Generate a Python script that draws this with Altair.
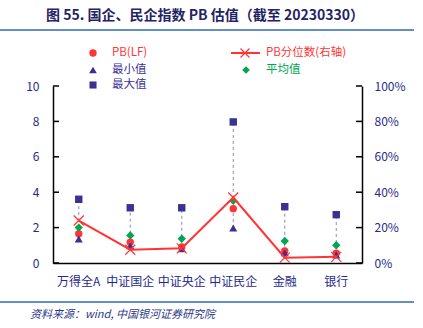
import altair as alt
import pandas as pd

cats = ["万得全A", "中证国企", "中证央企", "中证民企", "金融", "银行"]
pb = [1.65, 1.17, 0.90, 3.07, 0.68, 0.55]
min_v = [1.35, 0.98, 0.80, 1.98, 0.58, 0.45]
max_v = [3.60, 3.12, 3.12, 7.97, 3.18, 2.73]
mean_v = [2.00, 1.56, 1.37, 3.52, 1.24, 1.00]
pct = [0.24, 0.075, 0.083, 0.37, 0.03, 0.035]
left_ticks = [0, 2, 4, 6, 8, 10]
right_ticks = [0, 0.2, 0.4, 0.6, 0.8, 1.0]

RED = "#FF3535"
PURPLE = "#3B3195"
GREEN = "#00A650"
NAVY = "#1F2A8A"
FONT = "Noto Sans CJK SC"

df = pd.DataFrame({"cat": cats, "pb": pb, "min": min_v, "max": max_v,
                   "mean": mean_v, "pct": pct})
lt = pd.DataFrame({"v": left_ticks})
rt = pd.DataFrame({"v": right_ticks})

W, H = 309, 177

xenc = alt.X("cat:N", sort=cats, title=None,
             scale=alt.Scale(paddingInner=0, paddingOuter=0),
             axis=alt.Axis(labelAngle=0, labelColor=NAVY, labelFont=FONT,
                           labelFontSize=12, labelPadding=13, ticks=False,
                           domainColor="black", domainWidth=1.5))

lscale = alt.Scale(domain=[0, 10], nice=False)
rscale = alt.Scale(domain=[0, 1], nice=False)
laxis = alt.Axis(values=left_ticks, labelColor=NAVY, labelFont=FONT,
                 labelFontSize=12, labelPadding=14, ticks=False, grid=False,
                 domainColor="black", domainWidth=1.5, title=None)
raxis = alt.Axis(values=right_ticks, format=".0%", orient="right",
                 labelColor=NAVY, labelFont=FONT, labelFontSize=12,
                 labelPadding=12, ticks=False, grid=False,
                 domainColor="black", domainWidth=1.5, title=None)

base = alt.Chart(df)

rule = base.mark_rule(color="#8C88C4", strokeDash=[3, 3], strokeWidth=1).encode(
    x=xenc, y=alt.Y("min:Q", scale=lscale, axis=laxis), y2="max:Q")
sq = base.mark_point(shape="square", filled=True, size=55, color=PURPLE, opacity=1).encode(
    x=xenc, y=alt.Y("max:Q", scale=lscale, axis=laxis))
dia = base.mark_point(shape="diamond", filled=True, size=70, color=GREEN, opacity=1).encode(
    x=xenc, y=alt.Y("mean:Q", scale=lscale, axis=laxis))
cir = base.mark_point(shape="circle", filled=True, size=55, color=RED, opacity=1).encode(
    x=xenc, y=alt.Y("pb:Q", scale=lscale, axis=laxis))
tri = base.mark_point(shape="triangle-up", filled=True, size=65, color=PURPLE, opacity=1).encode(
    x=xenc, y=alt.Y("min:Q", scale=lscale, axis=laxis))
ltick = alt.Chart(lt).mark_rule(color="black", strokeWidth=1.5).encode(
    x=alt.value(0), x2=alt.value(6), y=alt.Y("v:Q", scale=lscale, axis=laxis))

left = alt.layer(rule, sq, cir, tri, dia, ltick)

XPATH = "M-1,-1L1,1M-1,1L1,-1"
line = base.mark_line(color=RED, strokeWidth=2).encode(
    x=xenc, y=alt.Y("pct:Q", scale=rscale, axis=raxis))
xm = base.mark_point(shape=XPATH, filled=False, size=100, color=RED,
                     strokeWidth=1.2, opacity=1).encode(
    x=xenc, y=alt.Y("pct:Q", scale=rscale, axis=raxis))
rtick = alt.Chart(rt).mark_rule(color="black", strokeWidth=1.5).encode(
    x=alt.value(W - 6), x2=alt.value(W), y=alt.Y("v:Q", scale=rscale, axis=raxis))

right = alt.layer(line, xm, rtick)

one = pd.DataFrame({"a": [0]})
def txt(s, x, y, color, size=11.5, align="left", **kw):
    return alt.Chart(one).mark_text(text=s, align=align, baseline="middle",
                                    font=FONT, fontSize=size, color=color, **kw).encode(
        x=alt.value(x), y=alt.value(y))

def pt(shape, x, y, color, size, **kw):
    return alt.Chart(one).mark_point(shape=shape, size=size, color=color, opacity=1, **kw).encode(
        x=alt.value(x), y=alt.value(y))

deco = [
    txt("图 55.  国企、民企指数 PB 估值（截至 20230330）", 152, -70, "#1F2466", 14,
        align="center", fontWeight="bold"),
    alt.Chart(one).mark_rule(color="#2E6BAE", strokeWidth=1.5).encode(
        x=alt.value(-53), x2=alt.value(361), y=alt.value(-56)),
    alt.Chart(one).mark_rule(color="#2E6BAE", strokeWidth=1.5).encode(
        x=alt.value(-53), x2=alt.value(361), y=alt.value(216)),
    txt("资料来源：wind, 中国银河证券研究院", -23, 229, "#2B3A8C", 11, fontStyle="italic"),
    pt("circle", 40, -33, RED, 55, filled=True),
    txt("PB(LF)", 59, -33, RED),
    pt("triangle-up", 40, -16, PURPLE, 60, filled=True),
    txt("最小值", 59, -16, PURPLE),
    pt("square", 40, -1, PURPLE, 50, filled=True),
    txt("最大值", 59, -1, PURPLE),
    alt.Chart(one).mark_rule(color=RED, strokeWidth=2).encode(
        x=alt.value(178), x2=alt.value(207), y=alt.value(-33)),
    pt(XPATH, 192, -33, RED, 80, filled=False, strokeWidth=1.2),
    txt("PB分位数(右轴)", 213, -33, RED),
    pt("diamond", 193, -16, GREEN, 60, filled=True),
    txt("平均值", 213, -16, GREEN),
]

chart = alt.layer(left, right, *deco).resolve_scale(y="independent").properties(
    width=W, height=H,
    autosize=alt.AutoSizeParams(type="none"),
    padding={"left": 53, "top": 86, "right": 61, "bottom": 65},
    background="white",
).configure_view(stroke=None)

chart.save("out.html", embed_options={"renderer": "svg", "actions": False})
